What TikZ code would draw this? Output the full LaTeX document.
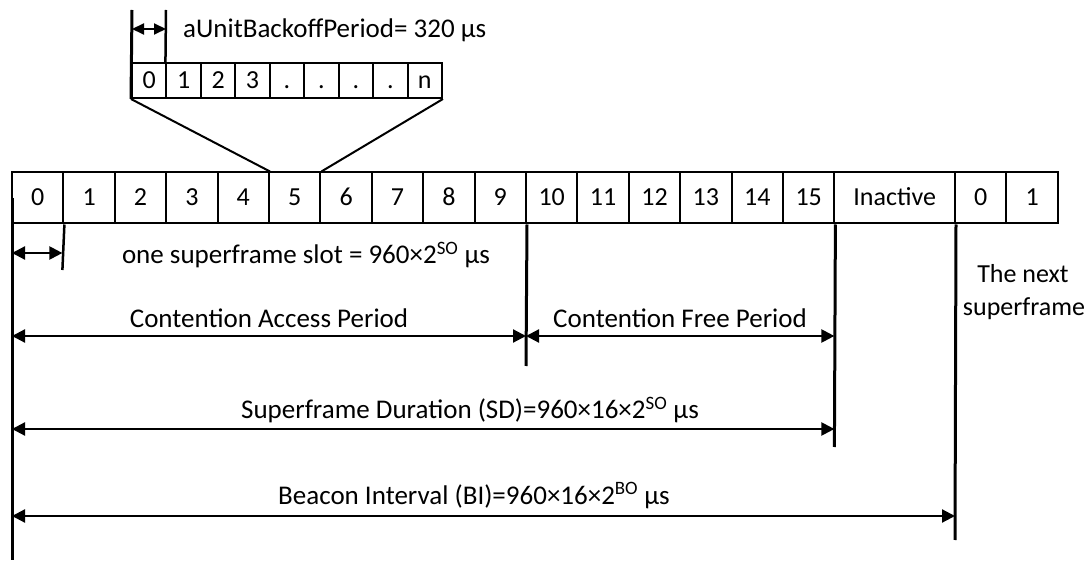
\documentclass[tikz,border=0pt]{standalone}
\usepackage{fontspec}
\setmainfont{Carlito}
\usetikzlibrary{arrows.meta}
\tikzset{
  txt/.style={font=\fontsize{26}{33}\selectfont},
  cell/.style={txt, draw, line width=2pt, inner sep=0pt, text height=16pt, text depth=0pt, minimum height=51pt, minimum width=51.4pt},
  scell/.style={txt, draw, line width=2pt, inner sep=0pt, text height=16pt, text depth=0pt, minimum height=35pt, minimum width=34.44pt},
  label/.style={font=\fontsize{27}{33}\selectfont, inner sep=0pt, anchor=base},
  marker/.style={line width=3pt},
  fan/.style={line width=2pt},
  dim/.style={line width=2.2pt, {Triangle[length=13pt,width=13pt]}-{Triangle[length=13pt,width=13pt]}},
  smalldim/.style={line width=2pt, {Triangle[length=12pt,width=11pt]}-{Triangle[length=12pt,width=11pt]}}
}
\begin{document}
\begin{tikzpicture}[x=1pt, y=-1pt]
\useasboundingbox (0,0) rectangle (1088,561);

% superframe slots 0..15
\foreach \k in {0,...,15} {
  \node[cell] (c\k) at ({12+51.4*(\k+0.5)},198) {\k};
}
\node[cell, minimum width=120.6pt] (inact) at (894.7,198) {Inactive};
\node[cell] (n0) at (980.7,198) {0};
\node[cell] (n1) at (1032.1,198) {1};

% backoff periods of one slot
\foreach \t [count=\i from 0] in {0,1,2,3,.,.,.,.,n} {
  \node[scell] (s\i) at ({132+34.44*(\i+0.5)},80.5) {\t};
}

% expansion of slot 5 into backoff periods
\draw[fan] (s0.south west) -- (c4.north east);
\draw[fan] (s8.south east) -- (c5.north east);

% backoff period marker
\coordinate (bA) at (132,10);
\coordinate (bB) at (166,10);
\draw[marker] (bA) -- (s0.south west);
\draw[line width=2.5pt] (bB) -- (s1.north west);
\coordinate (bL) at (132,29);
\coordinate (bR) at (166,29);
\draw[smalldim] (bL) -- (bR);
\node[label, anchor=base west] (bo) at (183,38) {aUnitBackoffPeriod= 320 µs};

% vertical markers below the frame
\coordinate (zTop) at (12,198);
\coordinate (zBot) at (12,560);
\draw[marker] (zTop) -- (zBot);
\coordinate (slotBot) at (62.4,270);
\draw[line width=2.5pt] (c0.south east) -- (slotBot);
\coordinate (capBot) at (526,366);
\draw[marker] (c9.south east) -- (capBot);
\coordinate (sdBot) at (834.4,447);
\draw[marker] (c15.south east) -- (sdBot);
\coordinate (biBot) at (955,540);
\draw[marker] (inact.south east) -- (biBot);

% slot width
\coordinate (slL) at (12,253);
\coordinate (slR) at (62.4,253);
\draw[dim] (slL) -- (slR);
\node[label] (slot) at (306,264) {one superframe slot = 960×2\textsuperscript{SO} µs};

% contention access / free periods
\coordinate (capL) at (12,336);
\coordinate (capR) at (526,336);
\coordinate (cfpR) at (834.4,336);
\draw[dim] (capL) -- (capR);
\draw[dim] (capR) -- (cfpR);
\node[label] (cap) at (269,328) {Contention Access Period};
\node[label] (cfp) at (680,328) {Contention Free Period};

% superframe duration
\coordinate (sdL) at (12,429);
\coordinate (sdR) at (834.4,429);
\draw[dim] (sdL) -- (sdR);
\node[label] (sd) at (470,419) {Superframe Duration (SD)=960×16×2\textsuperscript{SO} µs};

% beacon interval
\coordinate (biL) at (12,516);
\coordinate (biR) at (955,516);
\draw[dim] (biL) -- (biR);
\node[label] (bi) at (474,504) {Beacon Interval (BI)=960×16×2\textsuperscript{BO} µs};

% next superframe
\node[label, txt] (nextA) at (1023,283) {The next};
\node[label, txt] (nextB) at (1024,316) {superframe};
\end{tikzpicture}
\end{document}
